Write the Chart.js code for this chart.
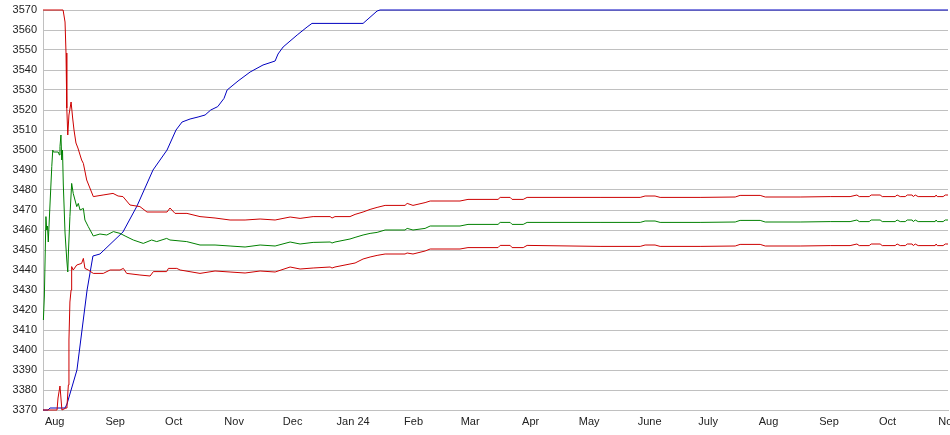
<!DOCTYPE html>
<html>
<head>
<meta charset="utf-8">
<script src="https://cdn.jsdelivr.net/npm/chart.js@4/dist/chart.umd.min.js"></script>
<style>
    html, body { margin: 0; padding: 0; background: #fff; }
    canvas { display: block; }
</style>
</head>
<body>
<canvas id="bandChart" width="950" height="435"></canvas>
<script>
// x values are days counted from 26 Jul 2023
const monthDays = [6, 37, 67, 98, 128, 159, 190, 219, 250, 280, 311, 341, 372, 403, 433, 464];
const monthLabels = ['Aug', 'Sep', 'Oct', 'Nov', 'Dec', 'Jan 24', 'Feb', 'Mar', 'Apr', 'May', 'June', 'July', 'Aug', 'Sep', 'Oct', 'Nov'];

// blue line [day, value]
const trendLine = [
    [0, 3370], [2.6, 3370], [3.6, 3371], [11.3, 3371], [12.3, 3373], [17.4, 3390], [22.6, 3430],
    [25.6, 3447], [29.2, 3448], [41, 3459], [48.2, 3472], [56.4, 3490], [63.6, 3500], [68.2, 3510],
    [71.3, 3514], [75.4, 3515.5], [79.5, 3516.5], [83.1, 3517.5], [86, 3520], [89.6, 3521.7],
    [92.8, 3525.8], [94.4, 3530], [100, 3534.5], [106.2, 3539], [112.8, 3542.5], [119, 3544.5],
    [120.5, 3548], [123.1, 3551.5], [130.3, 3557.5], [135.4, 3561.5], [137.9, 3563.3],
    [164.1, 3563.3], [171.3, 3569.5], [172.8, 3570], [464, 3570]
];

// start of the three band lines [day, value]
const upperStart = [
    [0, 3570], [10.3, 3570], [11.3, 3564], [11.8, 3548.5], [12.2, 3521], [12.7, 3507.5], [13.3, 3517.5],
    [14.4, 3524], [15.2, 3516], [15.9, 3510], [16.9, 3503.5], [17.9, 3501], [19.8, 3495], [20.7, 3493.3],
    [22.4, 3485], [25.8, 3476.7], [30.8, 3477.5], [35.9, 3478.3], [38.5, 3477], [41, 3476.7],
    [44.6, 3472.5], [49.7, 3471.7], [53.3, 3469], [63.6, 3469], [65.1, 3471], [67.7, 3468.3], [73.8, 3468.3]
];
const middleStart = [
    [0.2, 3415], [0.7, 3427], [1.5, 3466.7], [1.9, 3460], [2.3, 3462], [2.7, 3454], [3.6, 3473],
    [4.5, 3491.7], [5.0, 3500], [5.3, 3499], [7.8, 3499], [8.4, 3497.5], [8.7, 3501.7], [9.2, 3507.5],
    [9.6, 3495], [10.0, 3500], [10.4, 3483], [11.3, 3458.5], [12.2, 3445], [12.7, 3439], [13.0, 3448],
    [13.8, 3466.7], [14.7, 3483.3], [15.5, 3478.3], [16.4, 3475], [17.3, 3471.7], [18.1, 3473.3],
    [19.0, 3470], [20.7, 3470.8], [21.5, 3465], [23.2, 3461.7], [25.8, 3457], [29.2, 3458],
    [32.7, 3457.5], [36.1, 3459.2], [39.5, 3458.3], [42.1, 3457], [46.3, 3455], [51.4, 3453.3],
    [55.7, 3455], [58.3, 3454.2], [63.4, 3455.8], [65.1, 3455], [73.7, 3454.2]
];
const lowerStart = [
    [0, 3370], [7.2, 3370], [7.7, 3376], [8.7, 3382], [9.2, 3376], [9.7, 3370], [11.8, 3371],
    [12.3, 3372], [13.0, 3382.5], [13.3, 3405], [13.8, 3424], [14.4, 3430], [14.7, 3441.7],
    [15.5, 3440], [17.3, 3442.5], [19.8, 3443.3], [20.7, 3445.8], [21.5, 3440.8], [23.2, 3440],
    [25.8, 3438.3], [30.9, 3438.3], [34.4, 3440], [39.5, 3440], [41.2, 3440.8], [42.9, 3438.3],
    [49.7, 3437.5], [54.9, 3437], [56.6, 3439.2], [63.4, 3439.2], [64.3, 3440.8], [68.6, 3440.8], [70.3, 3440]
];

// rest of the bands share the same days
const bandDays = [
    80.5, 88.2, 95.9, 103.6, 111.3, 119, 126.7, 131.8, 138.5, 147.2, 148.2, 149.7, 157.4, 160, 164.1,
    167.7, 171.3, 175.4, 185.6, 186.7, 189.7, 195.9, 198.5, 213.8, 217.9, 233.3, 234.4, 239.5, 240.5,
    246.2, 248.2, 285.6, 306.2, 308.7, 313.8, 316.4, 336.9, 354.9, 357.4, 367.7, 370.3, 388.2, 403.6,
    413.8, 417.3, 418.5, 423.6, 424.6, 429.2, 430.3, 436.9, 437.9, 439.5, 442.1, 443.1, 445.6, 446.2,
    447.2, 448.7, 457.4, 457.9, 458.5, 461.5, 462.6, 464
];
const upperBand = [
    3466.7, 3466, 3465, 3465, 3465.5, 3465, 3466.5, 3465.8, 3466.7, 3466.7, 3466, 3466.7, 3466.7, 3467.8, 3469,
    3470.3, 3471.3, 3472.3, 3472.3, 3473.3, 3472.3, 3473.7, 3474.5, 3474.5, 3475.3, 3475.3, 3476.3, 3476.3, 3475.3,
    3475.3, 3476.3, 3476.3, 3476.3, 3477, 3477, 3476.3, 3476.3, 3476.5, 3477.3, 3477.3, 3476.5, 3476.5, 3476.7,
    3476.7, 3477.5, 3476.7, 3476.7, 3477.5, 3477.5, 3476.7, 3476.7, 3477.5, 3476.7, 3476.7, 3477.5, 3477.5, 3476.7,
    3477.5, 3476.7, 3476.7, 3477.5, 3476.7, 3476.7, 3477.5, 3477.5
];
const middleBand = [
    3452.5, 3452.5, 3452, 3451.5, 3452.5, 3452, 3454, 3453, 3453.8, 3454, 3453.5, 3454, 3455.5, 3456.3, 3457.5,
    3458.3, 3458.8, 3460, 3460, 3460.8, 3460, 3460.8, 3462, 3462, 3462.8, 3462.8, 3463.8, 3463.8, 3462.8,
    3462.8, 3463.8, 3463.8, 3463.8, 3464.5, 3464.5, 3463.8, 3463.8, 3464, 3464.8, 3464.8, 3464, 3464, 3464.2,
    3464.2, 3465, 3464.2, 3464.2, 3465, 3465, 3464.2, 3464.2, 3465, 3464.2, 3464.2, 3465, 3465, 3464.2,
    3465, 3464.2, 3464.2, 3465, 3464.2, 3464.2, 3465, 3465
];
const lowerBand = [
    3438.3, 3439.5, 3439, 3438.5, 3439.5, 3439, 3441.5, 3440.5, 3441, 3441.5, 3441, 3441.5, 3443, 3443.5, 3445.5,
    3446.5, 3447.3, 3448, 3448, 3448.5, 3448, 3449.5, 3450.5, 3450.5, 3451.2, 3451.2, 3452.3, 3452.3, 3451.2,
    3451.2, 3452.3, 3451.8, 3451.8, 3452.5, 3452.5, 3451.8, 3451.8, 3452, 3452.8, 3452.8, 3452, 3452, 3452.2,
    3452.2, 3453, 3452.2, 3452.2, 3453, 3453, 3452.2, 3452.2, 3453, 3452.2, 3452.2, 3453, 3453, 3452.2,
    3453, 3452.2, 3452.2, 3453, 3452.2, 3452.2, 3453, 3453
];

function toPoints(pairs) {
    return pairs.map(p => ({ x: p[0], y: p[1] }));
}

function bandPoints(start, values) {
    return toPoints(start).concat(bandDays.map((d, i) => ({ x: d, y: values[i] })));
}

function lineStyle(color) {
    return {
        borderColor: color,
        borderWidth: 1,
        pointRadius: 0,
        tension: 0,
        fill: false,
        clip: 2
    };
}

const ctx = document.getElementById('bandChart').getContext('2d');

new Chart(ctx, {
    type: 'line',
    data: {
        datasets: [
            Object.assign({ label: 'lower', data: bandPoints(lowerStart, lowerBand) }, lineStyle('#cc0000')),
            Object.assign({ label: 'middle', data: bandPoints(middleStart, middleBand) }, lineStyle('#008000')),
            Object.assign({ label: 'upper', data: bandPoints(upperStart, upperBand) }, lineStyle('#cc0000')),
            Object.assign({ label: 'trend', data: toPoints(trendLine) }, lineStyle('#0000c0'))
        ]
    },
    options: {
        responsive: false,
        animation: false,
        devicePixelRatio: 1,
        layout: { padding: { top: 10, right: 2, left: 0, bottom: 0 } },
        plugins: {
            legend: { display: false },
            tooltip: { enabled: false }
        },
        scales: {
            x: {
                type: 'linear',
                min: 0,
                max: 464,
                afterBuildTicks: scale => {
                    scale.ticks = monthDays.map(v => ({ value: v }));
                },
                afterFit: scale => {
                    scale.height = 25;
                    scale.paddingLeft = 0;
                    scale.paddingRight = 0;
                },
                grid: { display: false, drawTicks: false },
                border: { display: true, color: '#c0c0c0' },
                ticks: {
                    autoSkip: false,
                    maxRotation: 0,
                    padding: 5,
                    color: '#222',
                    font: { family: 'Arial, "Liberation Sans", sans-serif', size: 11 },
                    callback: (value, index) => monthLabels[index]
                }
            },
            y: {
                min: 3370,
                max: 3570,
                afterFit: scale => {
                    scale.width = 43;
                    scale.paddingTop = 0;
                    scale.paddingBottom = 0;
                },
                grid: { color: '#c0c0c0', drawTicks: false },
                border: { display: true, color: '#c0c0c0' },
                ticks: {
                    stepSize: 10,
                    padding: 6,
                    color: '#222',
                    font: { family: 'Arial, "Liberation Sans", sans-serif', size: 11 },
                    callback: value => String(value)
                }
            }
        }
    }
});
</script>
</body>
</html>
